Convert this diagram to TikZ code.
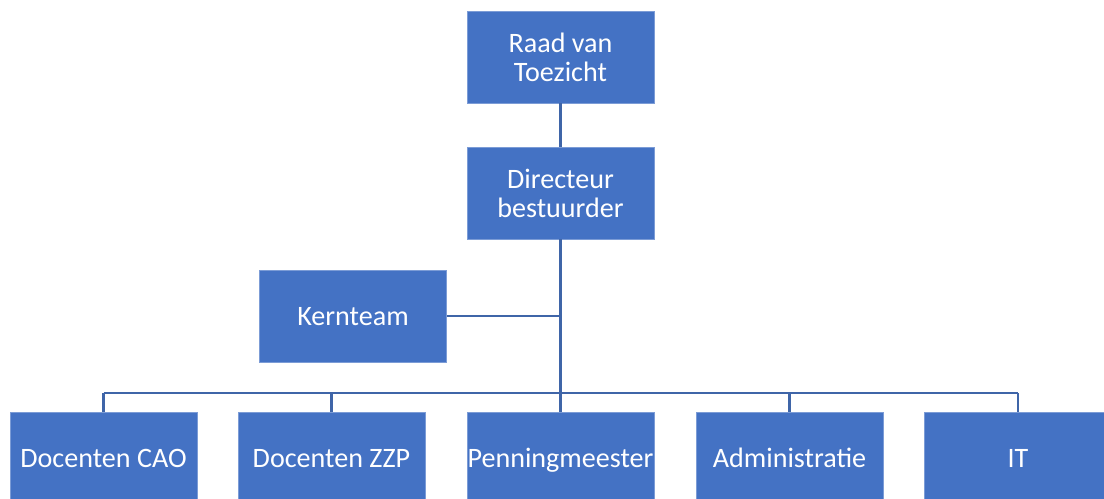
\documentclass[tikz,border=0pt]{standalone}
\usepackage{fontspec}
\setmainfont{Carlito}
\usepackage{xcolor}
\usetikzlibrary{positioning,calc}
\definecolor{orgblue}{HTML}{4472C4}
\definecolor{orgline}{HTML}{3F65A8}

\begin{document}
\begin{tikzpicture}[x=0.02cm,y=-0.02cm,
  box/.style={fill=orgblue,draw=orgblue!70!white,line width=.4pt,text=white,
    minimum width=3.74cm,minimum height=1.84cm,align=center,
    font=\fontsize{16}{16.5}\selectfont,inner sep=0pt},
  single/.style={box,text height=12.5pt,text depth=1.5pt},
  link/.style={draw=orgline,line width=1.2pt}]
\useasboundingbox (0,0) rectangle (1104,499);
\clip (0,0) rectangle (1104,499);
\node[box] (raad) at (560.5,57) {Raad van\\Toezicht};
\node[box] (dir) at (560.5,193) {Directeur\\bestuurder};
\node[single] (kern) at (353,316) {Kernteam};
\coordinate (bus) at (560.5,393);
\foreach \n/\x/\t in {cao/103.5/Docenten CAO,zzp/331.5/Docenten ZZP,
  pen/560.5/Penningmeester,adm/789.5/Administratie,it/1018/IT}
  \node[single] (\n) at (\x,458) {\t};
\draw[link] (raad) -- (dir);
\draw[link] (dir) -- (bus);
\draw[link] (kern.east) -- (kern.east -| dir);
\draw[link] (cao.north |- bus) -- (it.north |- bus);
\foreach \n in {cao,zzp,pen,adm,it}
  \draw[link] (\n.north |- bus) -- (\n.north);
\end{tikzpicture}
\end{document}
